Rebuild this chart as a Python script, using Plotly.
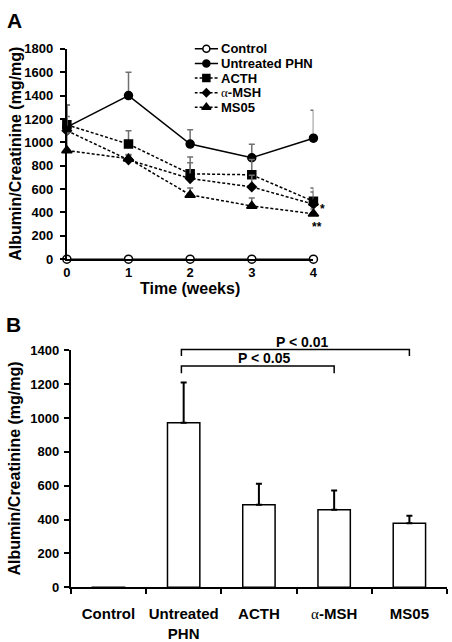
import plotly.graph_objects as go

# ---------------- data ----------------
weeks = [0, 1, 2, 3, 4]
week_labels = ["0", "1", "2", "3", "4"]

series_names = ["Control", "Untreated PHN", "ACTH", "α-MSH", "MS05"]
control = [0, 0, 0, 0, 0]
control_err = [0, 0, 0, 0, 0]
untreated = [1130, 1400, 985, 868, 1035]
untreated_err = [190, 200, 122, 115, 240]
acth = [1150, 985, 730, 722, 495]
acth_err = [170, 115, 145, 130, 113]
msh = [1100, 850, 690, 618, 470]
msh_err = [120, 45, 135, 100, 105]
ms05 = [930, 860, 550, 455, 388]
ms05_err = [150, 30, 60, 68, 42]

a_ticks = [0, 200, 400, 600, 800, 1000, 1200, 1400, 1600, 1800]

groups = ["Control", "Untreated<br>PHN", "ACTH", "α-MSH", "MS05"]
group_means = [-18, 972, 488, 458, 378]
group_err = [0, 238, 123, 114, 44]
b_ticks = [0, 200, 400, 600, 800, 1000, 1200, 1400]

# comparisons: (from group index, to group index, bracket height, drop to, label)
comparisons = [(1, 3, 1308, 1265, "P < 0.05"), (1, 4, 1405, 1366, "P < 0.01")]

# ---------------- styling ----------------
FONT = "Liberation Sans, Arial, sans-serif"
W, H = 452, 642


def alpha_html(s):
    return s.replace("α", "<span style=\"font-family:'Liberation Serif';font-weight:normal\">α</span>")


styles = {
    "Control": dict(symbol="circle", color="white", size=8, dash="solid"),
    "Untreated PHN": dict(symbol="circle", color="black", size=8, dash="solid"),
    "ACTH": dict(symbol="square", color="black", size=8, dash="3px,2px"),
    "α-MSH": dict(symbol="diamond", color="black", size=7, dash="3px,2px"),
    "MS05": dict(symbol="triangle-up", color="black", size=9, dash="3px,2px"),
}
values = {
    "Control": (control, control_err),
    "Untreated PHN": (untreated, untreated_err),
    "ACTH": (acth, acth_err),
    "α-MSH": (msh, msh_err),
    "MS05": (ms05, ms05_err),
}

fig = go.Figure()

# Panel A lines
for name in series_names:
    y, e = values[name]
    st = styles[name]
    fig.add_trace(go.Scatter(
        x=weeks, y=y, mode="lines+markers", name=name, showlegend=False,
        xaxis="x", yaxis="y", cliponaxis=False,
        line=dict(color="black", width=1.5, dash=st["dash"]),
        marker=dict(symbol=st["symbol"], size=st["size"], color=st["color"],
                    line=dict(color="black", width=1.5)),
        error_y=dict(type="data", array=e, symmetric=False, arrayminus=[0] * len(e),
                     visible=any(v > 0 for v in e), color="#707070", thickness=1.5, width=3),
    ))

# Legend (manual, drawn on a small helper axis)
n = len(series_names)
for i, name in enumerate(series_names):
    st = styles[name]
    yy = n - 1 - i
    fig.add_trace(go.Scatter(
        x=[0, 1], y=[yy, yy], mode="lines", showlegend=False, hoverinfo="skip",
        xaxis="x3", yaxis="y3", line=dict(color="black", width=1.5, dash=st["dash"]),
    ))
    fig.add_trace(go.Scatter(
        x=[0.5], y=[yy], mode="markers", showlegend=False, hoverinfo="skip",
        xaxis="x3", yaxis="y3", cliponaxis=False,
        marker=dict(symbol=st["symbol"], size=st["size"] - 1, color=st["color"],
                    line=dict(color="black", width=1.5)),
    ))
    fig.add_annotation(x=220 / W, xref="paper", y=yy, yref="y3", text=alpha_html(name),
                       showarrow=False, xanchor="left", yanchor="middle", borderpad=0,
                       font=dict(family=FONT, size=13, color="black", weight="bold"))

# Panel B bars
fig.add_trace(go.Bar(
    x=groups, y=group_means, xaxis="x2", yaxis="y2", showlegend=False, cliponaxis=False,
    width=0.43, marker=dict(color="white", line=dict(color="black", width=1.5)),
    error_y=dict(type="data", array=group_err, symmetric=False, arrayminus=[0] * len(group_err),
                 color="black", thickness=2, width=3),
))

# significance brackets (in domain coords derived from category index and value)
b_ymax = b_ticks[-1]
ncat = len(groups)
for i0, i1, yb, yd, label in comparisons:
    fx0 = (i0 + 0.5) / ncat
    fx1 = (i1 + 0.5) / ncat
    fy = yb / b_ymax
    fd = yd / b_ymax
    fig.add_shape(type="path", xref="x2 domain", yref="y2 domain",
                  path=f"M {fx0 - 0.006} {fd} L {fx0 - 0.006} {fy} L {fx1} {fy} L {fx1} {fd}",
                  line=dict(color="black", width=1.5))
    fig.add_annotation(x=(fx0 + fx1) / 2 + 0.015, xref="x2 domain", y=fy, yref="y2 domain",
                       text=label, showarrow=False, xanchor="center", yanchor="bottom",
                       yshift=-1, borderpad=0,
                       font=dict(family=FONT, size=14, color="black", weight="bold"))

# asterisks
fig.add_annotation(x=weeks[-1], y=msh[-1], xref="x", yref="y", text="*", showarrow=False,
                   xshift=9, yshift=-5, borderpad=0,
                   font=dict(family=FONT, size=12, color="black", weight="bold"))
fig.add_annotation(x=weeks[-1], y=ms05[-1], xref="x", yref="y", text="**", showarrow=False,
                   xshift=4, yshift=-13, borderpad=0,
                   font=dict(family=FONT, size=12, color="black", weight="bold"))

# panel letters and axis titles
for txt, xp, yp in [("A", 11, 14), ("B", 10, 326)]:
    fig.add_annotation(x=xp / W, y=1 - yp / H, xref="paper", yref="paper", text=txt,
                       showarrow=False, xanchor="center", yanchor="middle",
                       font=dict(family=FONT, size=21, color="black", weight="bold"))

a_dom_y = [1 - 259 / H, 1 - 43 / H]
b_dom_y = [1 - 596 / H, 1 - 352.7 / H]
for dom in (a_dom_y, b_dom_y):
    fig.add_annotation(x=11 / W, y=sum(dom) / 2, xref="paper", yref="paper",
                       text="Albumin/Creatinine (mg/mg)", textangle=-90, showarrow=False,
                       xanchor="center", yanchor="middle",
                       font=dict(family=FONT, size=16, color="black", weight="bold"))

tickfont = dict(family=FONT, size=13, color="black", weight="bold")
axis_common = dict(showline=True, linecolor="black", linewidth=2, showgrid=False,
                   zeroline=False, fixedrange=True)

fig.update_layout(
    width=W, height=H, margin=dict(l=0, r=0, t=0, b=0),
    paper_bgcolor="white", plot_bgcolor="white", showlegend=False,
    font=dict(family=FONT, color="black"),
    xaxis=dict(domain=[64 / W, 315 / W], range=[0, 4], anchor="y",
               tickvals=weeks, ticktext=week_labels, ticks="", tickfont=tickfont,
               ticklabelstandoff=0, tickangle=0,
               title=dict(text="Time (weeks)", standoff=1,
                          font=dict(family=FONT, size=16, color="black", weight="bold")),
               **axis_common),
    yaxis=dict(domain=a_dom_y, range=[0, 1800], anchor="x", tickvals=a_ticks,
               ticks="outside", ticklen=5, tickwidth=2, tickcolor="black",
               tickfont=tickfont, ticklabelstandoff=4, **axis_common),
    xaxis2=dict(domain=[68 / W, 451 / W], range=[-0.5, 4.5], anchor="y2", type="category",
                ticks="outside", tickson="boundaries", ticklen=5, tickwidth=2, tickcolor="black",
                tickvals=groups, ticktext=[alpha_html(g) for g in groups], tickangle=0,
                tickfont=dict(family=FONT, size=15, color="black", weight="bold"),
                ticklabelstandoff=12, **axis_common),
    yaxis2=dict(domain=b_dom_y, range=[0, 1400], anchor="x2", tickvals=b_ticks,
                ticks="outside", ticklen=5, tickwidth=2, tickcolor="black",
                tickfont=tickfont, ticklabelstandoff=2, **axis_common),
    xaxis3=dict(domain=[194 / W, 218 / W], range=[0, 1], anchor="y3", visible=False, fixedrange=True),
    yaxis3=dict(domain=[1 - 110.5 / H, 1 - 35.5 / H], range=[-0.5, 4.5], anchor="x3",
                visible=False, fixedrange=True),
)

fig.write_html("out.html", config={"displayModeBar": False},
               post_script="document.body.style.margin='0';document.body.style.overflow='hidden';")
